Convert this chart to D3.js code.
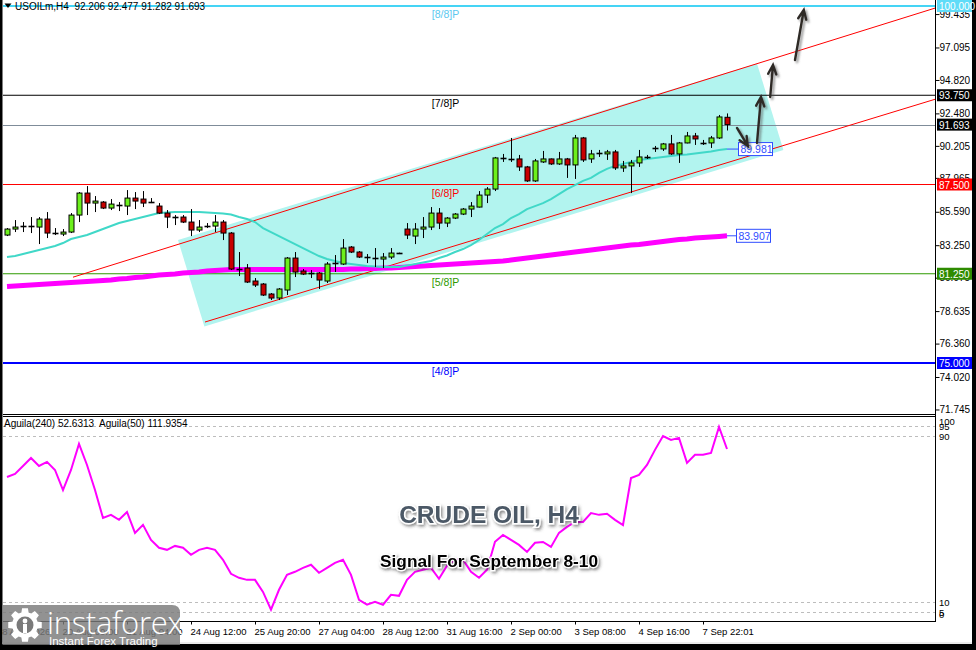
<!DOCTYPE html>
<html><head><meta charset="utf-8">
<script src="https://cdn.jsdelivr.net/npm/d3@7"></script>
<style>html,body{margin:0;padding:0;background:#000;overflow:hidden}svg{display:block}</style>
</head><body><svg id="c" width="976" height="650"></svg>
<script>
// ---------------- DATA ----------------
const symbolTitle = "USOILm,H4  92.206 92.477 91.282 91.693";
const openP  = [83.96,84.38,84.56,84.56,84.52,85.08,84.10,84.03,84.17,85.36,86.90,86.20,86.27,85.85,86.06,85.99,86.55,86.48,86.27,85.99,85.50,85.22,85.22,84.87,84.31,84.59,84.59,84.87,84.10,81.58,81.65,80.74,80.53,79.83,79.55,80.11,82.35,81.44,81.30,81.30,80.74,82.00,81.93,83.12,82.77,82.42,82.35,82.28,82.42,82.70,84.38,83.89,84.38,84.52,85.50,84.80,85.15,85.43,85.78,85.92,86.76,87.18,89.36,89.29,89.29,88.73,87.75,89.08,89.29,88.94,89.29,88.87,90.76,89.29,89.71,89.64,89.78,88.66,88.80,89.01,89.43,90.06,89.99,90.34,89.64,90.41,90.90,90.41,90.41,90.76,92.206];
const highP  = [84.45,85.01,84.87,85.22,85.22,85.57,84.45,84.38,85.50,86.97,87.39,86.69,86.34,86.48,86.27,87.11,86.97,87.04,86.55,86.20,85.71,85.36,85.36,85.78,85.01,84.80,85.36,85.01,84.17,82.77,81.93,80.95,80.60,79.90,80.25,82.42,82.77,81.58,81.51,81.37,82.07,82.56,83.68,83.19,82.84,82.63,83.05,82.70,83.05,82.73,84.80,84.80,85.22,85.92,85.85,85.22,85.50,85.85,86.27,87.04,87.32,89.43,89.64,90.76,89.57,88.80,89.29,89.85,89.32,89.78,89.36,90.97,90.83,89.92,89.92,89.92,89.92,89.15,89.22,89.92,89.57,90.20,90.41,90.97,90.48,91.18,91.11,90.62,90.90,92.37,92.477];
const lowP   = [83.89,84.17,84.17,84.10,83.33,83.75,83.96,83.89,84.10,84.87,85.36,85.57,85.78,85.71,85.64,85.36,85.78,85.92,86.20,85.43,84.45,84.66,84.80,83.89,84.17,84.45,84.17,83.61,81.51,81.09,80.60,80.32,79.69,79.41,79.41,79.76,81.02,81.16,80.95,80.18,80.60,81.37,81.86,82.70,82.35,82.00,81.72,81.65,82.28,82.63,83.68,83.33,83.75,84.31,84.38,84.52,85.08,85.36,85.22,85.89,86.20,87.04,89.08,89.08,88.45,87.68,87.68,89.01,88.87,88.87,87.96,87.89,89.08,89.01,89.43,89.22,88.52,88.38,86.90,88.73,89.29,89.78,89.85,89.57,89.01,90.38,90.27,90.27,90.06,90.69,91.282];
const closeP = [84.38,84.52,84.56,84.56,85.08,84.10,84.10,84.17,85.36,86.90,86.20,86.34,85.85,86.13,86.06,86.55,86.34,86.20,86.27,85.50,85.22,85.22,84.87,84.31,84.52,84.59,84.87,84.10,81.58,81.58,80.67,80.46,79.76,79.55,80.18,82.35,81.37,81.23,81.30,80.81,81.93,82.00,83.05,82.77,82.42,82.42,82.35,82.42,82.70,82.70,83.96,84.38,84.52,85.50,84.80,85.15,85.43,85.78,85.99,86.76,87.18,89.36,89.36,89.29,88.73,87.75,89.15,89.29,88.94,89.29,88.87,90.76,89.22,89.64,89.71,89.78,88.66,88.80,89.01,89.43,89.43,90.06,90.34,89.64,90.41,90.90,90.69,90.41,90.76,92.23,91.693];
const maFast = [82.42,82.49,82.63,82.77,82.91,83.05,83.19,83.40,83.68,83.82,83.96,84.17,84.38,84.59,84.80,84.94,85.08,85.22,85.36,85.50,85.54,85.57,85.57,85.57,85.57,85.54,85.50,85.47,85.40,85.22,85.08,84.87,84.45,84.17,83.89,83.61,83.33,83.05,82.77,82.49,82.28,82.14,82.00,81.93,81.86,81.79,81.76,81.72,81.72,81.72,81.83,81.93,82.04,82.14,82.35,82.53,82.77,82.98,83.26,83.61,84.03,84.45,84.73,85.15,85.43,85.78,85.99,86.20,86.48,86.83,87.18,87.46,87.75,87.96,88.31,88.59,88.80,88.94,89.08,89.22,89.29,89.36,89.43,89.50,89.57,89.60,89.67,89.74,89.81,89.92,89.981];
const maSlow = [80.36,80.39,80.43,80.46,80.50,80.53,80.57,80.60,80.64,80.67,80.71,80.74,80.78,80.81,80.88,80.92,80.99,81.02,81.09,81.16,81.20,81.23,81.30,81.34,81.37,81.44,81.48,81.51,81.55,81.55,81.55,81.55,81.55,81.55,81.55,81.55,81.55,81.55,81.55,81.55,81.55,81.55,81.55,81.58,81.58,81.62,81.62,81.65,81.65,81.69,81.72,81.76,81.79,81.83,81.86,81.90,81.93,81.97,82.00,82.04,82.07,82.11,82.14,82.21,82.28,82.35,82.42,82.49,82.56,82.63,82.70,82.77,82.84,82.91,82.98,83.05,83.12,83.19,83.26,83.30,83.37,83.44,83.51,83.58,83.65,83.68,83.75,83.79,83.82,83.86,83.907];
const aguila = [70.3,71.8,75.6,79.5,75.6,77.6,73.7,64.0,73.7,86.3,76.1,64.0,50.5,52.0,49.6,53.4,43.3,47.2,39.9,36.1,35.1,37.0,36.1,32.7,35.1,36.1,35.1,30.3,23.5,21.6,20.6,20.6,14.8,6.2,15.8,23.0,24.5,26.4,27.9,24.0,26.4,28.8,30.3,23.0,11.0,8.6,10.0,8.6,13.4,12.9,20.6,24.5,25.5,26.4,21.1,27.4,30.3,30.3,24.5,21.6,25.5,39.0,42.3,39.9,37.5,34.1,38.5,38.9,36.5,43.3,46.2,48.6,48.6,52.9,52.0,52.5,49.6,47.1,69.8,71.3,76.1,83.4,90.1,88.2,89.2,77.1,81.0,81.0,81.9,94.5,83.8];
const priceTicks = [99.435,97.095,94.820,92.480,90.205,87.965,85.590,83.250,80.975,78.635,76.360,74.020,71.745];
const levelValues = [100, 93.75, 87.5, 81.25, 75];
const levelNames = ["[8/8]P","[7/8]P","[6/8]P","[5/8]P","[4/8]P"];
const timeIdx = [-1.2, 7, 15, 23, 31, 39, 47, 55, 63, 71, 79, 87];
const timeLabels = ["18 Aug 2026","20 Aug 00:00","21 Aug 04:00","24 Aug 12:00","25 Aug 20:00","27 Aug 04:00","28 Aug 12:00","31 Aug 16:00","2 Sep 00:00","3 Sep 08:00","4 Sep 16:00","7 Sep 22:01"];
const indLevels = [95, 90, 10, 5];
const indTickLabels = [100, 95, 90, 10, 5, 0];
const indTitle = "Aguila(240) 52.6313  Aguila(50) 111.9354";
// channel anchors (bar index, price)
const chanUpper = [[8.25, 81.01],[99.75, 97.01]];
const chanLower = [[24.75, 77.87],[99.75, 90.69]];
const chanBox = [[21.375, 83.61],[93.75, 95.98],[97.05, 89.92],[24.675, 77.56]];
// forecast arrows [[k1,p1],[k2,p2]]
const arrows = [
  [[91.25, 91.46],[92.6, 90.20]],
  [[93.75, 90.41],[94.25, 93.63]],
  [[95.4, 93.63],[95.75, 95.87]],
  [[98.5, 96.22],[99.6, 99.72]]
];

// ---------------- STYLE ----------------
const levelColors = ["#45d4f5","#000000","#ff0000","#2e9a00","#0000ff"];
const levelWidths = [2,1,1,1,2];
const upCol = "#6cf01c", dnCol = "#c80000";
const F = "'Liberation Sans', Arial, sans-serif";

// ---------------- SCALES ----------------
const W = 976, H = 650;
const axisX = 935, mainTop = 0, mainBot = 414, indTop = 417, indBot = 621;
const x = d3.scaleLinear().domain([0, 90]).range([7, 727]);
const y = d3.scaleLinear().domain([100, 75]).range([6, 363]);
const yi = d3.scaleLinear().domain([0, 100]).range([622.5, 415.5]);

const svg = d3.select("#c");
const defs = svg.append("defs");
defs.append("clipPath").attr("id","clipMain").append("rect").attr("x",3).attr("y",mainTop).attr("width",axisX-3).attr("height",mainBot-mainTop);
defs.append("clipPath").attr("id","clipInd").append("rect").attr("x",3).attr("y",indTop).attr("width",axisX-3).attr("height",indBot-indTop);
const sh = defs.append("filter").attr("id","shadow").attr("x","-50%").attr("y","-50%").attr("width","200%").attr("height","200%");
sh.append("feDropShadow").attr("dx",2).attr("dy",2).attr("stdDeviation",1.2).attr("flood-color","#555").attr("flood-opacity",0.6);
const sh2 = defs.append("filter").attr("id","tshadow").attr("x","-20%").attr("y","-50%").attr("width","140%").attr("height","200%");
sh2.append("feDropShadow").attr("dx",1.5).attr("dy",2).attr("stdDeviation",1.5).attr("flood-color","#333").attr("flood-opacity",0.55);

// background + frame
svg.append("rect").attr("width",W).attr("height",H).attr("fill","#000");
svg.append("rect").attr("x",2.5).attr("y",0).attr("width",969.5).attr("height",644).attr("fill","#fff");
svg.append("line").attr("x1",2.5).attr("x2",972).attr("y1",643).attr("y2",643).attr("stroke","#d8d8d8");

const main = svg.append("g").attr("clip-path","url(#clipMain)");

// channel box
main.append("path").attr("d", d3.line().x(d=>x(d[0])).y(d=>y(d[1]))(chanBox)+"Z").attr("fill","#b2f4ef");

// horizontal levels
levelValues.forEach((v,i)=>{
  main.append("line").attr("x1",3).attr("x2",axisX).attr("y1",y(v)).attr("y2",y(v))
    .attr("stroke",levelColors[i]).attr("stroke-width",levelWidths[i]);
});
// bid line
const last = closeP[closeP.length-1];
main.append("line").attr("x1",3).attr("x2",axisX).attr("y1",Math.round(y(last))+0.5).attr("y2",Math.round(y(last))+0.5).attr("stroke","#7f8c99");

// channel lines (extended to the right)
function ext(seg){
  const [a,b] = seg; const k2 = 130;
  const slope = (b[1]-a[1])/(b[0]-a[0]);
  return [a,[k2, a[1]+slope*(k2-a[0])]];
}
[chanUpper, chanLower].forEach(seg=>{
  main.append("path").attr("d", d3.line().x(d=>x(d[0])).y(d=>y(d[1]))(ext(seg))).attr("stroke","#ff0000").attr("stroke-width",1).attr("fill","none");
});

// moving averages
const idx = d3.range(closeP.length);
main.append("path").attr("d", d3.line().x(i=>x(i)).y(i=>y(maSlow[i]))(idx))
  .attr("fill","none").attr("stroke","#ff00ff").attr("stroke-width",5);
main.append("path").attr("d", d3.line().x(i=>x(i)).y(i=>y(maFast[i]))(idx))
  .attr("fill","none").attr("stroke","#40d8c8").attr("stroke-width",2);

// candles
const cg = main.append("g");
const cs = cg.selectAll("g").data(idx).join("g");
cs.append("line").attr("x1",i=>Math.round(x(i))+0.5).attr("x2",i=>Math.round(x(i))+0.5)
  .attr("y1",i=>y(highP[i])).attr("y2",i=>y(lowP[i])).attr("stroke","#000");
cs.filter(i=>openP[i]===closeP[i]).append("line")
  .attr("x1",i=>Math.round(x(i))-2.5).attr("x2",i=>Math.round(x(i))+3.5)
  .attr("y1",i=>Math.round(y(openP[i]))+0.5).attr("y2",i=>Math.round(y(openP[i]))+0.5)
  .attr("stroke","#000").attr("stroke-width",1.6);
cs.filter(i=>openP[i]!==closeP[i]).append("rect")
  .attr("x",i=>Math.round(x(i))-2)
  .attr("y",i=>y(Math.max(openP[i],closeP[i])))
  .attr("width",5)
  .attr("height",i=>Math.max(1.5, y(Math.min(openP[i],closeP[i]))-y(Math.max(openP[i],closeP[i]))))
  .attr("fill",i=>closeP[i]>openP[i]?upCol:dnCol).attr("stroke","#000").attr("stroke-width",1);

// level labels
levelValues.forEach((v,i)=>{
  main.append("text").attr("x",x(53.1)).attr("y",y(v)+12).attr("font-family",F).attr("font-size",10.5)
    .attr("fill", i===0 ? "#5bc8f0" : levelColors[i]).text(levelNames[i]);
});

// MA value tags
function tag(val, color, bx){
  const yy = y(val);
  const lastX = x(idx.length-1);
  main.append("line").attr("x1",lastX).attr("x2",bx).attr("y1",yy).attr("y2",yy).attr("stroke",color);
  main.append("rect").attr("x",bx).attr("y",yy-6.5).attr("width",34).attr("height",13).attr("fill","#fff").attr("stroke",color);
  main.append("text").attr("x",bx+2).attr("y",yy+4).attr("font-family",F).attr("font-size",10.5).attr("fill",color).text(d3.format(".3f")(val));
}
tag(maFast[maFast.length-1], "#2f4dff", 738.5);
tag(maSlow[maSlow.length-1], "#2f4dff", 736.5);

// arrows
const ag = main.append("g").attr("filter","url(#shadow)");
arrows.forEach(a=>{
  const x1=x(a[0][0]), y1=y(a[0][1]), x2=x(a[1][0]), y2=y(a[1][1]);
  const ang = Math.atan2(y2-y1, x2-x1), L = 10, s = 0.42;
  const h1 = [x2 - L*Math.cos(ang - s), y2 - L*Math.sin(ang - s)];
  const h2 = [x2 - L*Math.cos(ang + s), y2 - L*Math.sin(ang + s)];
  ag.append("path").attr("d",`M${x1},${y1}L${x2},${y2}M${h1[0]},${h1[1]}L${x2},${y2}L${h2[0]},${h2[1]}`)
    .attr("stroke","#2e2a26").attr("stroke-width",2.4).attr("fill","none").attr("stroke-linecap","round");
});

// header
svg.append("path").attr("d","M4.5,3.5L11.5,3.5L8,8Z").attr("fill","#000");
svg.append("text").attr("x",15).attr("y",9.5).attr("font-family",F).attr("font-size",10).attr("fill","#000").style("white-space","pre").text(symbolTitle);

// ---------------- INDICATOR ----------------
const ind = svg.append("g").attr("clip-path","url(#clipInd)");
indLevels.forEach(v=>{
  ind.append("line").attr("x1",3).attr("x2",axisX).attr("y1",Math.round(yi(v))+0.5).attr("y2",Math.round(yi(v))+0.5)
    .attr("stroke","#bdbdbd").attr("stroke-dasharray","3,3");
});
ind.append("path").attr("d", d3.line().x(i=>x(i)).y(i=>yi(aguila[i]))(idx)).attr("fill","none").attr("stroke","#ff00ff").attr("stroke-width",2);
svg.append("text").attr("x",4).attr("y",427).attr("font-family",F).attr("font-size",10).attr("fill","#000").style("white-space","pre").text(indTitle);

// panel borders
svg.append("line").attr("x1",3).attr("x2",axisX).attr("y1",mainBot+0.5).attr("y2",mainBot+0.5).attr("stroke","#000");
svg.append("line").attr("x1",3).attr("x2",axisX).attr("y1",indTop-0.5).attr("y2",indTop-0.5).attr("stroke","#000");
svg.append("line").attr("x1",3).attr("x2",axisX).attr("y1",indBot+0.5).attr("y2",indBot+0.5).attr("stroke","#000");
svg.append("line").attr("x1",axisX+0.5).attr("x2",axisX+0.5).attr("y1",0).attr("y2",indBot+1).attr("stroke","#000");

// ---------------- AXES ----------------
const ya = svg.append("g").attr("transform",`translate(${axisX+0.5},0)`)
  .call(d3.axisRight(y).tickValues(priceTicks).tickSize(4).tickPadding(0).tickFormat(d3.format(".3f")));
ya.select(".domain").remove();
ya.selectAll("text").attr("font-family",F).attr("font-size",10).attr("fill","#000");
ya.selectAll("line").attr("stroke","#000");

// level value boxes
const boxCols = ["#5fdcf8","#000000","#ff0000","#2e8b00","#0000ff"];
const boxVals = [levelValues[0], levelValues[1], last, levelValues[2], levelValues[3], levelValues[4]];
const boxFill = [boxCols[0], "#000", "#000", boxCols[2], boxCols[3], boxCols[4]];
boxVals.forEach((v,i)=>{
  const yy = Math.max(6, y(v));
  svg.append("rect").attr("x",axisX+2).attr("y",yy-6).attr("width",35).attr("height",12).attr("fill",boxFill[i]);
  svg.append("text").attr("x",axisX+4).attr("y",yy+4).attr("font-family",F).attr("font-size",10).attr("fill","#fff").text(d3.format(".3f")(v));
});

// indicator axis labels
indTickLabels.forEach(v=>{
  const yy = Math.min(618, Math.max(425, yi(v)+4));
  svg.append("text").attr("x",axisX+4).attr("y",yy).attr("font-family",F).attr("font-size",9.5).attr("fill","#000").text(v);
});

// time axis
const xa = svg.append("g").attr("transform",`translate(0,${indBot+0.5})`)
  .call(d3.axisBottom(x).tickValues(timeIdx).tickSize(3).tickFormat((d,i)=>timeLabels[i]));
xa.select(".domain").remove();
xa.selectAll("line").attr("stroke","#000").attr("opacity",(d,i)=>i===0?0:1);
xa.selectAll("text").attr("font-family",F).attr("font-size",9.5).attr("fill","#000").attr("text-anchor","start").attr("dx",-1).attr("y",7);

// ---------------- OVERLAY TEXT ----------------
svg.append("text").attr("x",489).attr("y",523).attr("text-anchor","middle").attr("font-family",F).attr("font-weight","bold")
  .attr("font-size",24.5).attr("fill","#4b5866").attr("stroke","#fff").attr("stroke-width",3).attr("paint-order","stroke")
  .attr("filter","url(#tshadow)").text("CRUDE OIL, H4");
svg.append("text").attr("x",489).attr("y",567).attr("text-anchor","middle").attr("font-family",F).attr("font-weight","bold")
  .attr("font-size",17.3).attr("fill","#000").attr("stroke","#fff").attr("stroke-width",2.5).attr("paint-order","stroke")
  .attr("filter","url(#tshadow)").text("Signal For September 8-10");

// ---------------- LOGO ----------------
const lg = svg.append("g");
lg.append("path").attr("d","M2.5,605H172Q180,605 180,613V645H2.5Z").attr("fill","#7a7a7a").attr("opacity",0.82);
(function gear(cx, cy){
  const teeth = 8, ro = 17, ri = 13;
  let pts = [];
  for (let t=0;t<teeth;t++){
    const a0 = t*2*Math.PI/teeth;
    const w = Math.PI/teeth*0.55;
    pts.push([cx+ri*Math.cos(a0-w*1.3), cy+ri*Math.sin(a0-w*1.3)]);
    pts.push([cx+ro*Math.cos(a0-w*0.8), cy+ro*Math.sin(a0-w*0.8)]);
    pts.push([cx+ro*Math.cos(a0+w*0.8), cy+ro*Math.sin(a0+w*0.8)]);
    pts.push([cx+ri*Math.cos(a0+w*1.3), cy+ri*Math.sin(a0+w*1.3)]);
  }
  lg.append("path").attr("d", d3.line()(pts)+"Z").attr("fill","#fff");
  lg.append("circle").attr("cx",cx).attr("cy",cy).attr("r",8.5).attr("fill","#7a7a7a");
  lg.append("circle").attr("cx",cx).attr("cy",cy-4).attr("r",2.4).attr("fill","#fff");
  lg.append("rect").attr("x",cx-2).attr("y",cy-1).attr("width",4).attr("height",9).attr("fill","#fff");
})(25, 625);
lg.append("text").attr("x",47).attr("y",634).attr("font-family","'Open Sans', 'Noto Sans', sans-serif").attr("font-size",31).attr("font-weight",300).attr("fill","#fff").attr("letter-spacing",-0.3).text("instaforex");
lg.append("text").attr("x",49).attr("y",645).attr("font-family",F).attr("font-size",11.5).attr("fill","#fff").text("Instant Forex Trading");
</script></body></html>
